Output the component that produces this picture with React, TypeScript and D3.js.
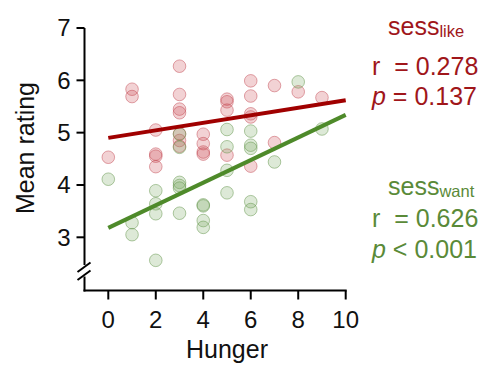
import React from "react";
import * as d3 from "d3";

const hungerLike = [0, 1, 1, 2, 2, 2, 2, 3, 3, 3, 3, 3, 3, 3, 4, 4, 4, 4, 5, 5, 5, 5, 6, 6, 6, 6, 6, 7, 7, 8, 9];
const ratingLike = [4.53, 5.83, 5.69, 5.05, 4.59, 4.55, 4.35, 6.27, 5.73, 5.45, 5.38, 4.98, 4.85, 4.74, 4.97, 4.79, 4.63, 4.59, 5.64, 5.59, 5.43, 4.57, 5.99, 5.7, 5.36, 5.3, 4.36, 5.9, 4.81, 5.78, 5.67];

const hungerWant = [0, 1, 1, 2, 2, 2, 2, 3, 3, 3, 3, 3, 3, 4, 4, 4, 4, 5, 5, 5, 5, 6, 6, 6, 6, 6, 7, 8, 9];
const ratingWant = [4.11, 3.28, 3.05, 3.89, 3.64, 3.45, 2.56, 4.97, 4.72, 4.05, 3.99, 3.94, 3.46, 3.62, 3.6, 3.32, 3.19, 5.06, 4.73, 4.28, 3.85, 5.03, 4.76, 4.7, 3.68, 3.53, 4.44, 5.97, 5.07];

const fitX = [0, 10];
const fitLike = [4.9, 5.62];
const fitWant = [3.18, 5.34];

const xTicks = [0, 2, 4, 6, 8, 10];
const yTicks = [3, 4, 5, 6, 7];

const FONT = "'Liberation Sans', Arial, sans-serif";
const RED = "#a0161a";
const GREEN = "#5a8a38";

export default function App() {
  const x = d3.scaleLinear().domain([0, 10]).range([108.3, 345.7]);
  const y = d3.scaleLinear().domain([3, 7]).range([237.3, 28]);
  const axisX = 84.5;
  const baseY = 290.5;
  const line = d3.line<[number, number]>().x((d) => x(d[0])).y((d) => y(d[1]));
  const likeLine = fitX.map((v, i) => [v, fitLike[i]] as [number, number]);
  const wantLine = fitX.map((v, i) => [v, fitWant[i]] as [number, number]);

  return (
    <svg width={486} height={365} style={{ position: "absolute", left: 0, top: 0 }} fontFamily={FONT}>
      <rect width={486} height={365} fill="#fff" />
      {hungerLike.map((h, i) => (
        <circle key={"l" + i} cx={x(h)} cy={y(ratingLike[i])} r={6.3}
          fill="rgba(205,80,90,0.26)" stroke="rgba(190,60,70,0.45)" strokeWidth={1} />
      ))}
      {hungerWant.map((h, i) => (
        <circle key={"w" + i} cx={x(h)} cy={y(ratingWant[i])} r={6.3}
          fill="rgba(125,170,100,0.26)" stroke="rgba(100,150,75,0.5)" strokeWidth={1} />
      ))}
      <path d={line(likeLine) || ""} stroke="#a00000" strokeWidth={4} fill="none" />
      <path d={line(wantLine) || ""} stroke="#4e8a2a" strokeWidth={4} fill="none" />

      <line x1={axisX} x2={axisX} y1={y(7)} y2={265} stroke="#000" strokeWidth={2} />
      <line x1={axisX} x2={axisX} y1={276.5} y2={baseY + 1} stroke="#000" strokeWidth={2} />
      <line x1={77.5} y1={272} x2={90.5} y2={262.5} stroke="#000" strokeWidth={2} />
      <line x1={77.5} y1={280} x2={90.5} y2={270.5} stroke="#000" strokeWidth={2} />
      {yTicks.map((t) => (
        <g key={"yt" + t}>
          <line x1={axisX - 8} x2={axisX} y1={y(t)} y2={y(t)} stroke="#000" strokeWidth={2} />
          <text x={axisX - 14} y={y(t)} dy="0.35em" textAnchor="end" fontSize={24} fill="#111">{t}</text>
        </g>
      ))}
      <line x1={axisX - 1} x2={x(10) + 1} y1={baseY} y2={baseY} stroke="#000" strokeWidth={2} />
      {xTicks.map((t) => (
        <g key={"xt" + t}>
          <line x1={x(t)} x2={x(t)} y1={baseY} y2={baseY + 9} stroke="#000" strokeWidth={2} />
          <text x={x(t)} y={328} textAnchor="middle" fontSize={24} fill="#111">{t}</text>
        </g>
      ))}
      <text x={x(5)} y={358} textAnchor="middle" fontSize={25} fill="#111">Hunger</text>
      <text transform={`translate(34,148) rotate(-90)`} textAnchor="middle" fontSize={25} fill="#111">Mean rating</text>

      <text x={388} y={35} fontSize={25} fill={RED}>sess<tspan fontSize={16.5} dy={2}>like</tspan></text>
      <text x={372} y={75} fontSize={25} fill={RED} xmlSpace="preserve">r  = 0.278</text>
      <text x={372} y={105} fontSize={25} fill={RED}><tspan fontStyle="italic">p</tspan> = 0.137</text>
      <text x={388} y={195} fontSize={25} fill={GREEN}>sess<tspan fontSize={16.5} dy={2}>want</tspan></text>
      <text x={372} y={227} fontSize={25} fill={GREEN} xmlSpace="preserve">r  = 0.626</text>
      <text x={372} y={258} fontSize={25} fill={GREEN}><tspan fontStyle="italic">p</tspan> &lt; 0.001</text>
    </svg>
  );
}
